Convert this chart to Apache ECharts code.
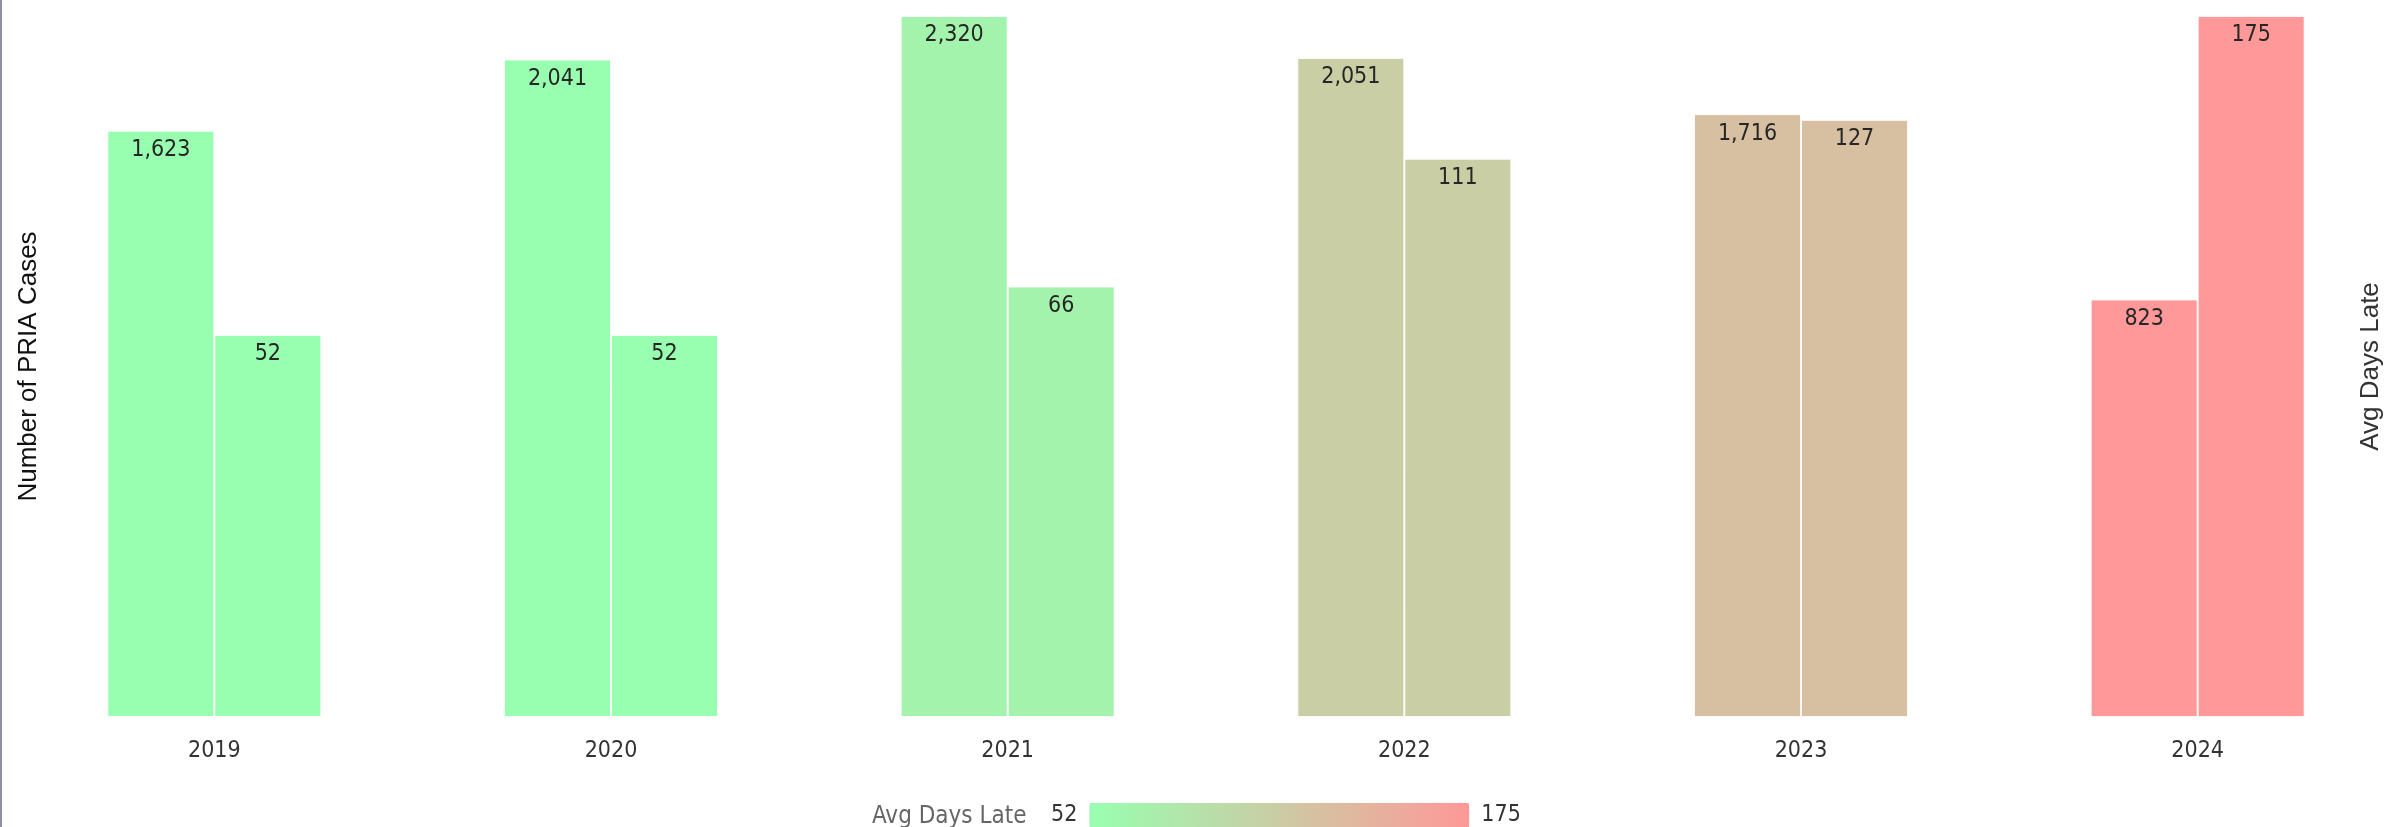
<!DOCTYPE html>
<html>
<head>
<meta charset="utf-8">
<title>PRIA Cases and Avg Days Late</title>
<script src="https://cdn.jsdelivr.net/npm/echarts@6/dist/echarts.min.js"></script>
<style>
  html, body { margin: 0; padding: 0; background: #fff; }
  #chart { width: 2387px; height: 827px; }
  .edge { position: absolute; left: 0; top: 0; width: 2px; height: 827px; background: #8b8fa7; }
</style>
</head>
<body>
<div id="chart"></div>
<div class="edge"></div>
<script>
  // data
  const years = ['2019', '2020', '2021', '2022', '2023', '2024'];
  const cases = [1623, 2041, 2320, 2051, 1716, 823];
  const avgDaysLate = [52, 52, 66, 111, 127, 175];
  const colorRange = ['#98FFB0', '#FF9898'];

  const NARROW = '"Liberation Sans Narrow", "Arial Narrow", "DejaVu Sans Condensed", sans-serif';
  const REGULAR = '"Liberation Sans", Arial, sans-serif';

  // both value axes in the picture are square-root scales, so the values go in as sqrt
  // and the raw value is kept alongside for the labels
  function rows(values) {
    return years.map((y, i) => [i, Math.sqrt(values[i]), values[i], avgDaysLate[i]]);
  }

  const barLabel = {
    show: true,
    position: 'insideTop',
    distance: 8,
    fontFamily: NARROW,
    fontSize: 23,
    color: '#262626',
    formatter: p => p.value[2].toLocaleString('en-US')
  };

  const barStyle = {
    borderColor: 'rgba(255,255,255,0.85)',
    borderWidth: 1
  };

  const chart = echarts.init(document.getElementById('chart'), null, { renderer: 'canvas' });

  chart.setOption({
    animation: false,
    title: {
      text: 'Avg Days Late',
      left: 872,
      top: 805,
      padding: 0,
      textStyle: { fontFamily: NARROW, fontSize: 24, fontWeight: 'normal', color: '#666' }
    },
    // the last group runs slightly past the right edge in the picture
    grid: { left: 16, top: 16, width: 2380, height: 701, outerBoundsMode: 'none' },
    xAxis: {
      type: 'category',
      data: years,
      axisLine: { show: false },
      axisTick: { show: false },
      axisLabel: { margin: 23, fontFamily: NARROW, fontSize: 23, color: '#333' }
    },
    yAxis: [{
      type: 'value',
      min: 0,
      max: 'dataMax',
      name: 'Number of PRIA Cases',
      nameLocation: 'middle',
      nameGap: -26,
      nameTextStyle: { fontFamily: REGULAR, fontSize: 26, color: '#111' },
      axisLine: { show: false },
      axisTick: { show: false },
      axisLabel: { show: false },
      splitLine: { show: false }
    }, {
      type: 'value',
      min: 0,
      max: 'dataMax',
      name: 'Avg Days Late',
      nameLocation: 'middle',
      nameGap: -38,
      nameTextStyle: { fontFamily: REGULAR, fontSize: 26, color: '#333' },
      axisLine: { show: false },
      axisTick: { show: false },
      axisLabel: { show: false },
      splitLine: { show: false }
    }],
    visualMap: {
      type: 'continuous',
      orient: 'horizontal',
      min: 52,
      max: 175,
      dimension: 3,
      seriesIndex: [0, 1],
      calculable: false,
      left: 1036,
      top: 788,
      itemWidth: 25,
      itemHeight: 380,
      textGap: 12,
      text: ['175', '52'],
      textStyle: { fontFamily: NARROW, fontSize: 23, color: '#333' },
      inRange: { color: colorRange }
    },
    series: [{
      name: 'Number of PRIA Cases',
      type: 'bar',
      yAxisIndex: 0,
      dimensions: ['year', 'scaled', 'raw', 'avg'],
      encode: { x: 0, y: 1 },
      data: rows(cases),
      barWidth: 107,
      barGap: '0%',
      itemStyle: barStyle,
      label: barLabel
    }, {
      name: 'Avg Days Late',
      type: 'bar',
      yAxisIndex: 1,
      dimensions: ['year', 'scaled', 'raw', 'avg'],
      encode: { x: 0, y: 1 },
      data: rows(avgDaysLate),
      barWidth: 107,
      barGap: '0%',
      itemStyle: barStyle,
      label: barLabel
    }]
  });
</script>
</body>
</html>
